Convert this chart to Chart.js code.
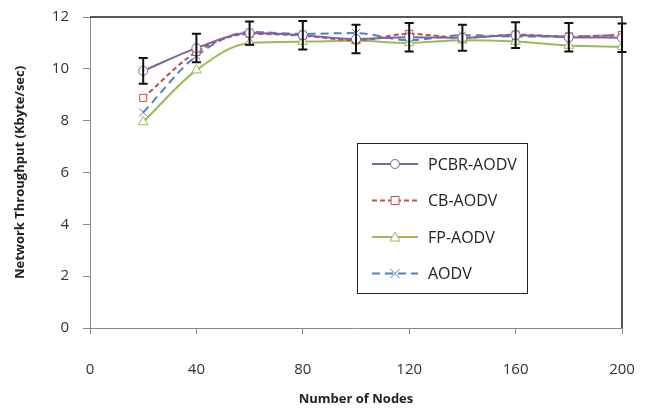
<!DOCTYPE html>
<html>
<head>
<meta charset="utf-8">
<script src="https://cdn.jsdelivr.net/npm/chart.js@4"></script>
<style>
  html, body { margin: 0; padding: 0; background: #fff; }
  #wrap { width: 650px; height: 411px; }
</style>
</head>
<body>
<div id="wrap"><canvas id="throughputChart" width="650" height="411"></canvas></div>
<script>
const nodes = [20, 40, 60, 80, 100, 120, 140, 160, 180, 200];

const pcbrAodv = [9.92, 10.8, 11.38, 11.3, 11.15, 11.22, 11.2, 11.3, 11.22, 11.2];
const cbAodv   = [8.88, 10.65, 11.35, 11.28, 11.1, 11.35, 11.2, 11.32, 11.25, 11.3];
const fpAodv   = [7.95, 9.95, 11.0, 11.05, 11.08, 11.0, 11.1, 11.05, 10.9, 10.85];
const aodv     = [8.32, 10.5, 11.42, 11.35, 11.38, 11.1, 11.3, 11.25, 11.25, 11.3];

// error on the PCBR-AODV series
const pcbrError = [0.5, 0.55, 0.45, 0.55, 0.55, 0.55, 0.5, 0.5, 0.55, 0.55];

const xTicks = [0, 40, 80, 120, 160, 200];
const yTicks = [0, 2, 4, 6, 8, 10, 12];

const FONT = "'Open Sans', 'DejaVu Sans', sans-serif";

function toPoints(values) {
    return nodes.map((n, i) => ({ x: n, y: values[i] }));
}

// black error bars drawn over the lines
const errorBarPlugin = {
    id: 'errorBars',
    afterDatasetsDraw(chart) {
        const { ctx, scales } = chart;
        ctx.save();
        ctx.strokeStyle = '#111';
        ctx.lineWidth = 2;
        nodes.forEach((n, i) => {
            const x = scales.x.getPixelForValue(n);
            const top = scales.y.getPixelForValue(pcbrAodv[i] + pcbrError[i]);
            const bot = scales.y.getPixelForValue(pcbrAodv[i] - pcbrError[i]);
            ctx.beginPath();
            ctx.moveTo(x, top); ctx.lineTo(x, bot);
            ctx.moveTo(x - 4.5, top); ctx.lineTo(x + 4.5, top);
            ctx.moveTo(x - 4.5, bot); ctx.lineTo(x + 4.5, bot);
            ctx.stroke();
        });
        ctx.restore();
    }
};

// top and right border of the plot area
const framePlugin = {
    id: 'frame',
    beforeDatasetsDraw(chart) {
        const { ctx, chartArea } = chart;
        ctx.save();
        ctx.strokeStyle = '#222';
        ctx.lineWidth = 1.5;
        ctx.beginPath();
        ctx.moveTo(chartArea.left, chartArea.top);
        ctx.lineTo(chartArea.right, chartArea.top);
        ctx.lineTo(chartArea.right, chartArea.bottom);
        ctx.stroke();
        ctx.restore();
    }
};

// boxed legend inside the plot
const boxLegendPlugin = {
    id: 'boxLegend',
    afterDraw(chart) {
        const { ctx } = chart;
        const left = 357, top = 143, w = 170, h = 150;
        ctx.save();
        ctx.fillStyle = '#fff';
        ctx.fillRect(left, top, w, h);
        ctx.strokeStyle = '#222';
        ctx.lineWidth = 1;
        ctx.strokeRect(left + 0.5, top + 0.5, w, h);
        chart.data.datasets.forEach((ds, i) => {
            const y = top + 21 + i * 36.5;
            ctx.strokeStyle = ds.borderColor;
            ctx.lineWidth = 2;
            ctx.setLineDash(ds.borderDash || []);
            ctx.beginPath();
            ctx.moveTo(372, y); ctx.lineTo(418, y);
            ctx.stroke();
            ctx.setLineDash([]);
            ctx.lineWidth = 1;
            const cx = 395;
            ctx.beginPath();
            if (ds.pointStyle === 'circle') {
                ctx.fillStyle = '#fff';
                ctx.arc(cx, y, 4.5, 0, Math.PI * 2);
                ctx.fill(); ctx.stroke();
            } else if (ds.pointStyle === 'rect') {
                ctx.fillStyle = '#fff';
                ctx.rect(cx - 4, y - 4, 8, 8);
                ctx.fill(); ctx.stroke();
            } else if (ds.pointStyle === 'triangle') {
                ctx.fillStyle = '#fff';
                ctx.moveTo(cx, y - 5); ctx.lineTo(cx + 5, y + 4); ctx.lineTo(cx - 5, y + 4); ctx.closePath();
                ctx.fill(); ctx.stroke();
            } else {
                ctx.moveTo(cx - 4.5, y - 4.5); ctx.lineTo(cx + 4.5, y + 4.5);
                ctx.moveTo(cx + 4.5, y - 4.5); ctx.lineTo(cx - 4.5, y + 4.5);
                ctx.stroke();
            }
            ctx.fillStyle = '#222';
            ctx.font = '16px ' + FONT;
            ctx.textBaseline = 'middle';
            ctx.fillText(ds.label, 428, y + 1);
        });
        ctx.restore();
    }
};

const ctx = document.getElementById('throughputChart').getContext('2d');
new Chart(ctx, {
    type: 'line',
    data: {
        datasets: [
            {
                label: 'PCBR-AODV', data: toPoints(pcbrAodv),
                borderColor: '#8064A2', backgroundColor: '#fff',
                pointStyle: 'circle', pointRadius: 4.5
            },
            {
                label: 'CB-AODV', data: toPoints(cbAodv),
                borderColor: '#C0504D', backgroundColor: '#fff',
                borderDash: [5, 3], pointStyle: 'rect', pointRadius: 5
            },
            {
                label: 'FP-AODV', data: toPoints(fpAodv),
                borderColor: '#9BBB59', backgroundColor: '#fff',
                pointStyle: 'triangle', pointRadius: 5.5
            },
            {
                label: 'AODV', data: toPoints(aodv),
                borderColor: '#4F81BD', backgroundColor: '#fff',
                borderDash: [8, 5], pointStyle: 'crossRot', pointRadius: 5.5
            }
        ]
    },
    options: {
        responsive: false,
        animation: false,
        parsing: false,
        layout: { padding: { top: 17, right: 28, left: 0, bottom: 0 } },
        elements: {
            line: { borderWidth: 2, tension: 0.4, cubicInterpolationMode: 'monotone' },
            point: { borderWidth: 1 }
        },
        plugins: {
            legend: { display: false },
            tooltip: { enabled: false }
        },
        scales: {
            x: {
                type: 'linear', min: 0, max: 200,
                afterBuildTicks: (axis) => { axis.ticks = xTicks.map(v => ({ value: v })); },
                afterFit: (axis) => {
                    axis.height = 83;
                    axis.paddingLeft = 0;
                    axis.paddingRight = 0;
                },
                border: { color: '#888', width: 1 },
                grid: { drawOnChartArea: false, color: '#888', tickLength: 6 },
                ticks: { color: '#333', font: { size: 15, family: FONT }, padding: 27, maxRotation: 0 },
                title: {
                    display: true, text: 'Number of Nodes', color: '#222',
                    font: { size: 13, weight: 'bold', family: FONT }, padding: { top: 10 }
                }
            },
            y: {
                min: 0, max: 12,
                afterBuildTicks: (axis) => { axis.ticks = yTicks.map(v => ({ value: v })); },
                afterFit: (axis) => {
                    axis.width = 90;
                    axis.paddingTop = 0;
                    axis.paddingBottom = 0;
                },
                border: { color: '#888', width: 1 },
                grid: { drawOnChartArea: false, color: '#888', tickLength: 7 },
                ticks: { color: '#333', font: { size: 15, family: FONT }, padding: 14 },
                title: {
                    display: true, text: 'Network Throughput (Kbyte/sec)', color: '#222',
                    font: { size: 13, weight: 'bold', family: FONT }, padding: { top: 12, bottom: 4 }
                }
            }
        }
    },
    plugins: [framePlugin, errorBarPlugin, boxLegendPlugin]
});
</script>
</body>
</html>
